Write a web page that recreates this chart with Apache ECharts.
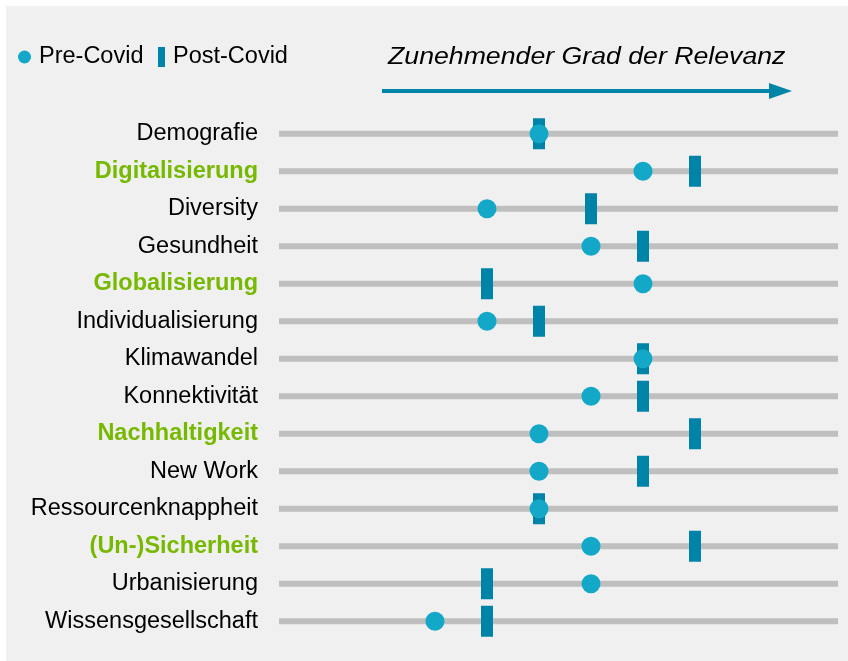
<!DOCTYPE html>
<html>
<head>
<meta charset="utf-8">
<script src="https://cdn.jsdelivr.net/npm/echarts@6/dist/echarts.min.js"></script>
<style>
html,body{margin:0;padding:0;background:#ffffff;}
#chart{width:848px;height:661px;}
</style>
</head>
<body>
<div id="chart"></div>
<script>
// Categories (top to bottom)
var categories = ['Demografie','Digitalisierung','Diversity','Gesundheit','Globalisierung','Individualisierung','Klimawandel','Konnektivität','Nachhaltigkeit','New Work','Ressourcenknappheit','(Un-)Sicherheit','Urbanisierung','Wissensgesellschaft'];
// Highlighted (green, bold) categories
var highlighted = ['Digitalisierung','Globalisierung','Nachhaltigkeit','(Un-)Sicherheit'];
// Degree of relevance
var preCovid  = [5, 7, 4, 6, 7, 4, 7, 6, 5, 5, 5, 6, 6, 3];
var postCovid = [5, 8, 6, 7, 4, 5, 7, 7, 8, 7, 5, 8, 4, 4];
var axisMin = 0;
var axisMax = 10.75;
var titleText = 'Zunehmender Grad der Relevanz';

var FONT = 'Liberation Sans, Arial, sans-serif';
var chart = echarts.init(document.getElementById('chart'), null, {renderer: 'canvas'});

var option = {
  backgroundColor: '#ffffff',
  animation: false,
  legend: [
    {
      left: 18, top: 45, padding: 0,
      itemWidth: 13, itemHeight: 13,
      data: [{name: 'Pre-Covid', icon: 'circle'}],
      textStyle: {fontFamily: FONT, fontSize: 23.5, color: '#000000', padding: [0,0,0,3]}
    },
    {
      left: 158, top: 45, padding: 0,
      itemWidth: 7, itemHeight: 20,
      data: [{name: 'Post-Covid', icon: 'rect'}],
      textStyle: {fontFamily: FONT, fontSize: 23.5, color: '#000000', padding: [0,0,0,3]}
    }
  ],
  graphic: [
    {type: 'rect', z: -10, silent: true, shape: {x: 6, y: 6, width: 842, height: 655}, style: {fill: '#f0f0f0'}},
    {type: 'text', z: 10, silent: true, x: 388, y: 58, scaleX: 1.16,
      style: {text: titleText, font: 'italic 23px ' + FONT, fill: '#000000', textAlign: 'left', textVerticalAlign: 'middle'}},
    {type: 'line', z: 10, silent: true, shape: {x1: 382, y1: 91, x2: 774, y2: 91}, style: {stroke: '#0085a8', lineWidth: 4}},
    {type: 'polygon', z: 10, silent: true, shape: {points: [[769, 83], [792, 91], [769, 99]]}, style: {fill: '#0085a8'}}
  ],
  grid: {left: 279, right: 10, top: 115, bottom: 21, containLabel: false},
  xAxis: {
    type: 'value', min: axisMin, max: axisMax, show: false
  },
  yAxis: {
    type: 'category',
    data: categories,
    inverse: true,
    axisLine: {show: false},
    axisTick: {show: false},
    splitLine: {show: false},
    axisLabel: {
      margin: 21,
      formatter: function (v) {
        return highlighted.indexOf(v) >= 0 ? '{g|' + v + '}' : '{n|' + v + '}';
      },
      rich: {
        n: {fontFamily: FONT, fontSize: 23.5, color: '#000000'},
        g: {fontFamily: FONT, fontSize: 23.5, color: '#76b900', fontWeight: 'bold'}
      }
    }
  },
  series: [
    {
      name: 'track',
      type: 'bar',
      data: categories.map(function () { return 0; }),
      barWidth: 6,
      showBackground: true,
      backgroundStyle: {color: '#bfbfbf'},
      itemStyle: {color: '#bfbfbf'},
      silent: true,
      z: 1
    },
    {
      name: 'Post-Covid',
      type: 'scatter',
      data: postCovid.map(function (v, i) { return [v, categories[i]]; }),
      symbol: 'rect',
      symbolSize: [12, 31],
      itemStyle: {color: '#0083a9', opacity: 1},
      z: 3
    },
    {
      name: 'Pre-Covid',
      type: 'scatter',
      data: preCovid.map(function (v, i) { return [v, categories[i]]; }),
      symbol: 'circle',
      symbolSize: 19,
      itemStyle: {color: '#13a8c8', opacity: 1},
      z: 4
    }
  ]
};
chart.setOption(option);
</script>
</body>
</html>
